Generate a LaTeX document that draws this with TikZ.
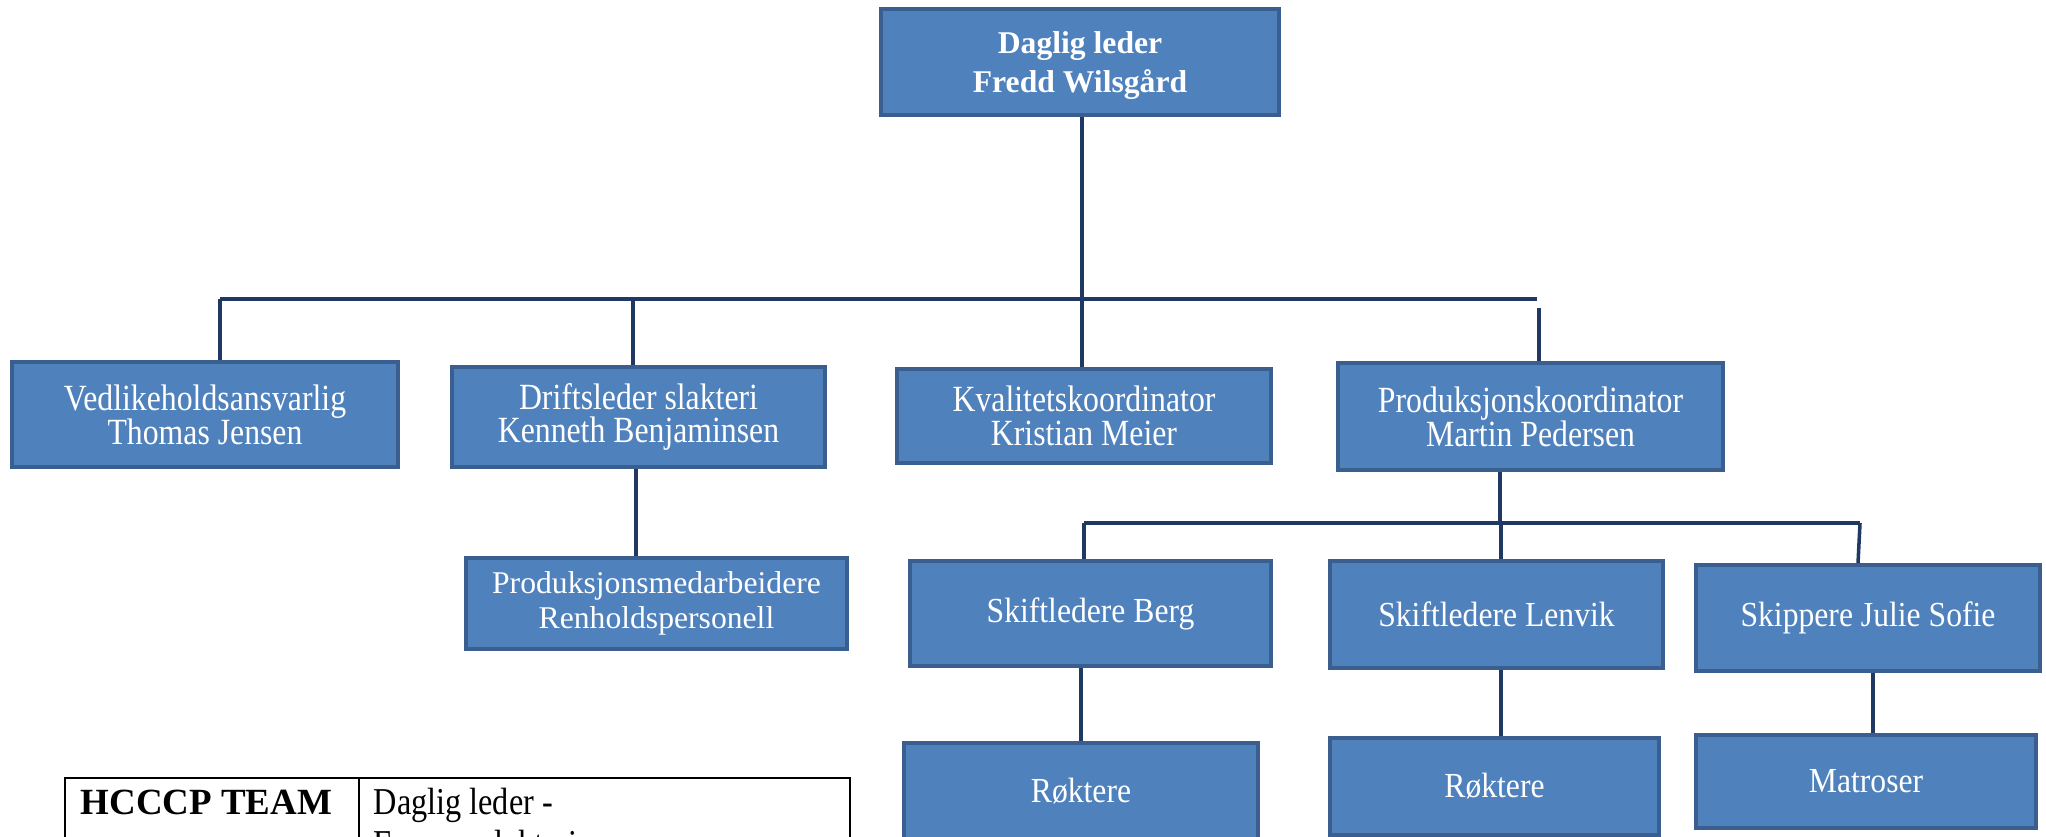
\documentclass[tikz,border=0pt]{standalone}
\usepackage{fontspec}
\setmainfont{Liberation Serif}
\newfontfamily\condfont[FakeStretch=0.9]{Liberation Serif}
\newfontfamily\condbfont[FakeStretch=0.86]{Liberation Serif}
\newfontfamily\tblfont[FakeStretch=0.85]{Liberation Serif}
\definecolor{boxfill}{HTML}{4F81BD}
\definecolor{boxline}{HTML}{3A5F8E}
\definecolor{conn}{HTML}{1F3864}
\begin{document}
\begin{tikzpicture}[x=0.01cm,y=-0.01cm,
  box/.style={draw=boxline, line width=1.1pt, fill=boxfill, text=white,
    align=center, inner sep=0pt,
    font=\condfont\fontsize{10pt}{9.6pt}\selectfont},
  rowbox/.style={box, font=\condbfont\fontsize{10.5pt}{9.6pt}\selectfont},
  topbox/.style={box, text depth=0pt, font=\bfseries\fontsize{9pt}{10.9pt}\selectfont},
  plainbox/.style={box, font=\fontsize{9pt}{9.8pt}\selectfont},
  link/.style={draw=conn, line width=1pt},
  tbl/.style={draw=black, line width=0.8pt}]
\useasboundingbox (0,0) rectangle (2046,837);
% boxes
\node[topbox, minimum width=3.98cm, minimum height=1.06cm] (top) at (1080,62) {Daglig leder\\Fredd Wilsgård};
\node[rowbox, minimum width=3.86cm, minimum height=1.05cm] (ved) at (205,414.5) {Vedlikeholdsansvarlig\\Thomas Jensen};
\node[rowbox, minimum width=3.73cm, minimum height=1.00cm] (drift) at (638.5,417) {Driftsleder slakteri\\Kenneth Benjaminsen};
\node[rowbox, minimum width=3.74cm, minimum height=0.94cm] (kval) at (1084,416) {Kvalitetskoordinator\\Kristian Meier};
\node[rowbox, minimum width=3.85cm, minimum height=1.07cm] (prodk) at (1530.5,416.5) {Produksjonskoordinator\\Martin Pedersen};
\node[plainbox, minimum width=3.81cm, minimum height=0.91cm] (pmed) at (656.5,603.5) {Produksjonsmedarbeidere\\Renholdspersonell};
\node[box, minimum width=3.61cm, minimum height=1.05cm] (berg) at (1090.5,613.5) {Skiftledere Berg};
\node[box, minimum width=3.33cm, minimum height=1.07cm] (lenvik) at (1496.5,614.5) {Skiftledere Lenvik};
\node[box, minimum width=3.44cm, minimum height=1.06cm] (skip) at (1868,618) {Skippere Julie Sofie};
\node[box, minimum width=3.54cm, minimum height=0.97cm] (rokt1) at (1081,791.5) {Røktere};
\node[box, minimum width=3.29cm, minimum height=0.97cm] (rokt2) at (1494.5,786.5) {Røktere};
\node[box, minimum width=3.40cm, minimum height=0.93cm] (mat) at (1866,781.5) {Matroser};
% junctions
\coordinate (busC) at (1082,299);
\coordinate (busL) at (220,299);
\coordinate (busR) at (1537,299);
\coordinate (bus2) at (633,299);
\coordinate (gapR) at (1539,308);
\coordinate (sub) at (1500,523);
\coordinate (subL) at (1084,523);
\coordinate (subM) at (1501,523);
\coordinate (subR) at (1860,523);
% connectors
\draw[link] (top.south -| busC) -- (busC);
\draw[link, line width=1.2pt] (busL) -- (busR);
\draw[link] (busL) -- (ved.north -| busL);
\draw[link] (bus2) -- (drift.north -| bus2);
\draw[link] (busC) -- (kval.north -| busC);
\draw[link] (gapR) -- (prodk.north -| gapR);
\draw[link] (drift.south -| 636,0) -- (pmed.north -| 636,0);
\draw[link] (prodk.south -| sub) -- (sub);
\draw[link] (subL) -- (subR);
\draw[link] (subL) -- (berg.north -| subL);
\draw[link] (subM) -- (lenvik.north -| subM);
\draw[link] (subR) -- (skip.north -| 1858,0);
\draw[link] (berg.south -| 1081,0) -- (rokt1.north -| 1081,0);
\draw[link] (lenvik.south -| 1501,0) -- (rokt2.north -| 1501,0);
\draw[link] (skip.south -| 1873,0) -- (mat.north -| 1873,0);
% HCCCP table
\coordinate (tNW) at (65,778);
\coordinate (tSE) at (850,900);
\coordinate (tDivTop) at (359,778);
\coordinate (tDivBot) at (359,900);
\draw[tbl] (tNW) rectangle (tSE);
\draw[tbl] (tDivTop) -- (tDivBot);
\node[anchor=base west, inner sep=0pt, font=\bfseries\fontsize{10.5pt}{12pt}\selectfont] (team) at (80,814) {HCCCP TEAM};
\node[anchor=base west, inner sep=0pt, font=\tblfont\fontsize{10.8pt}{12pt}\selectfont] (dl) at (373,814) {Daglig leder -};
\node[anchor=base west, inner sep=0pt, font=\tblfont\fontsize{10.8pt}{12pt}\selectfont] (fs) at (373,856) {Forman slakteri};
\end{tikzpicture}
\end{document}
